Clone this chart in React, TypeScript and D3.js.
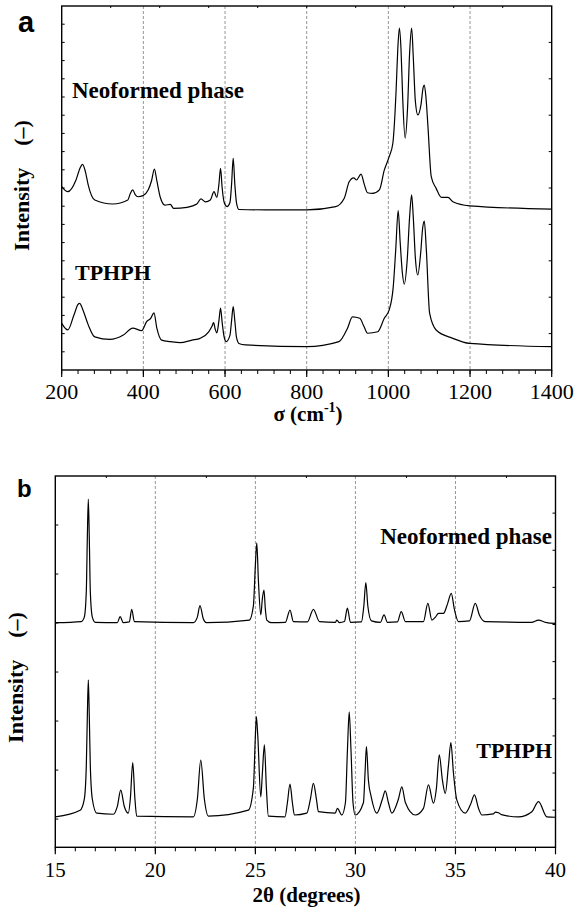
import React from "react";
import * as d3 from "d3";

const W = 575;
const H = 913;

// panel a: Raman spectra, wavenumber (cm-1) vs intensity (a.u.)
const ramanNeo: [number, number][] = [
  [200, 5.04], [215, 4.9], [235, 5.22], [245, 5.55], [251, 5.65], [258, 5.45], [265, 5.08], [281, 4.67],
  [325, 4.56], [362, 4.67], [368, 4.85], [374, 4.95], [380, 4.82], [387, 4.76], [399, 4.79], [412, 4.95],
  [420, 5.2], [427, 5.52], [433, 5.2], [441, 4.76], [453, 4.53], [466, 4.55], [474, 4.44], [507, 4.47],
  [531, 4.56], [541, 4.7], [552, 4.62], [564, 4.67], [573, 4.9], [580, 4.74], [585, 5.1], [589, 5.54],
  [593, 5.0], [598, 4.6], [605, 4.49], [612, 4.6], [616, 5.1], [620, 5.82], [624, 5.1], [628, 4.6],
  [634, 4.41], [700, 4.4], [800, 4.4], [871, 4.49], [892, 4.72], [904, 5.17], [915, 5.28], [922, 5.22],
  [933, 5.38], [941, 5.1], [949, 4.87], [961, 4.85], [978, 4.95], [990, 5.49], [1002, 5.86], [1011, 6.23],
  [1019, 7.69], [1023, 8.8], [1027, 9.39], [1031, 8.8], [1035, 7.5], [1041, 6.37], [1047, 7.2],
  [1052, 8.7], [1057, 9.39], [1061, 8.6], [1066, 7.4], [1072, 7.01], [1080, 7.3], [1085, 7.75],
  [1088, 7.83], [1092, 7.5], [1097, 6.68], [1105, 5.31], [1117, 4.99], [1130, 4.74], [1146, 4.74],
  [1158, 4.62], [1199, 4.51], [1400, 4.42],
];
const ramanTphph: [number, number][] = [
  [200, 1.28], [215, 1.1], [230, 1.51], [240, 1.8], [244, 1.83], [252, 1.65], [265, 1.24], [281, 0.91],
  [318, 0.84], [351, 0.96], [374, 1.15], [396, 1.08], [408, 1.33], [418, 1.42], [426, 1.57], [433, 1.15],
  [445, 0.82], [466, 0.78], [490, 0.75], [519, 0.82], [539, 0.87], [560, 1.05], [568, 1.2], [572, 1.3],
  [576, 1.12], [580, 1.02], [585, 1.35], [589, 1.7], [593, 1.3], [598, 0.9], [603, 0.78], [612, 0.95],
  [616, 1.35], [620, 1.74], [624, 1.35], [628, 0.9], [634, 0.73], [650, 0.69], [800, 0.64], [879, 0.78],
  [900, 1.15], [912, 1.46], [930, 1.42], [940, 1.2], [949, 1.01], [974, 1.05], [990, 1.42], [1002, 1.65],
  [1012, 2.29], [1018, 3.3], [1024, 4.38], [1029, 3.5], [1034, 2.7], [1039, 2.36], [1046, 3.0],
  [1052, 4.2], [1057, 4.81], [1061, 4.2], [1066, 3.1], [1072, 2.61], [1079, 3.2], [1084, 3.9],
  [1088, 4.09], [1093, 3.3], [1101, 1.56], [1117, 1.1], [1158, 0.87], [1199, 0.73], [1400, 0.64],
];

// panel b: XRD patterns, 2theta (degrees) vs intensity (a.u.)
const xrdNeo: [number, number][] = [
  [15, 6.05], [16.3, 6.08], [16.45, 6.2], [16.55, 6.9], [16.6, 8.3], [16.65, 9.38], [16.7, 8.3],
  [16.75, 6.9], [16.85, 6.2], [17.0, 6.06], [18.1, 6.05], [18.24, 6.21], [18.4, 6.05], [18.7, 6.07],
  [18.82, 6.41], [18.95, 6.08], [21.9, 6.05], [22.1, 6.2], [22.23, 6.51], [22.4, 6.15], [22.55, 6.05],
  [24.7, 6.12], [24.9, 6.5], [25.0, 7.6], [25.07, 8.2], [25.15, 7.2], [25.27, 6.26], [25.35, 6.7],
  [25.43, 6.93], [25.5, 6.4], [25.57, 6.12], [25.8, 6.05], [26.5, 6.06], [26.73, 6.39], [26.9, 6.08],
  [27.6, 6.07], [27.9, 6.41], [28.2, 6.08], [29.0, 6.06], [29.07, 6.12], [29.2, 6.05], [29.45, 6.08],
  [29.6, 6.44], [29.75, 6.06], [30.3, 6.07], [30.42, 6.5], [30.52, 7.13], [30.62, 6.5], [30.8, 6.1],
  [31.25, 6.06], [31.43, 6.26], [31.6, 6.06], [32.1, 6.07], [32.29, 6.35], [32.5, 6.08], [33.4, 6.08],
  [33.62, 6.57], [33.82, 6.12], [34.0, 6.2], [34.15, 6.3], [34.4, 6.3], [34.6, 6.55], [34.79, 6.84],
  [34.95, 6.4], [35.15, 6.08], [35.7, 6.1], [35.99, 6.57], [36.2, 6.25], [36.48, 6.08], [38.8, 6.06],
  [39.15, 6.12], [39.5, 6.06], [40, 6.03],
];
const xrdTphph: [number, number][] = [
  [15, 0.82], [16.24, 1.0], [16.45, 1.3], [16.55, 2.2], [16.6, 3.5], [16.65, 4.51], [16.7, 3.5],
  [16.75, 2.2], [16.85, 1.3], [17.07, 0.92], [17.9, 0.89], [18.1, 1.1], [18.27, 1.54], [18.45, 1.1],
  [18.65, 0.92], [18.75, 1.3], [18.87, 2.28], [18.98, 1.3], [19.07, 0.84], [21.9, 0.82], [22.1, 1.3],
  [22.27, 2.35], [22.45, 1.3], [22.65, 0.84], [24.65, 1.0], [24.9, 1.6], [25.0, 3.0], [25.05, 3.52],
  [25.12, 3.0], [25.27, 1.36], [25.35, 2.0], [25.45, 2.76], [25.55, 1.6], [25.65, 0.84], [26.48, 0.82],
  [26.6, 1.2], [26.73, 1.7], [26.85, 1.2], [26.95, 0.87], [27.57, 0.92], [27.75, 1.3], [27.9, 1.72],
  [28.05, 1.3], [28.15, 0.96], [28.99, 0.92], [29.1, 1.05], [29.32, 0.87], [29.5, 1.2], [29.6, 2.6],
  [29.69, 3.65], [29.78, 2.6], [29.88, 1.2], [29.99, 0.87], [30.4, 1.2], [30.48, 2.0], [30.55, 2.71],
  [30.65, 1.8], [30.79, 1.36], [31.07, 0.92], [31.35, 1.3], [31.49, 1.52], [31.65, 1.2], [31.82, 0.92],
  [32.15, 1.3], [32.32, 1.63], [32.5, 1.2], [32.99, 0.87], [33.4, 1.05], [33.65, 1.68], [33.9, 1.19],
  [34.05, 1.6], [34.19, 2.49], [34.35, 1.8], [34.49, 1.45], [34.65, 2.2], [34.77, 2.82], [34.9, 2.0],
  [35.07, 1.27], [35.49, 0.92], [35.75, 1.15], [35.95, 1.41], [36.15, 1.05], [36.32, 0.87], [36.9, 0.9],
  [37.0, 0.95], [37.15, 0.93], [37.3, 0.88], [38.15, 0.82], [38.82, 0.96], [39.15, 1.23], [39.57, 0.82],
  [40, 0.81],
];

const ramanGrid = [400, 600, 800, 1000, 1200];
const xrdGrid = [20, 25, 30, 35];
const xrdLeftTicks = [8.68, 7.36, 6.04, 4.72, 3.4, 2.08, 0.76];

const serif = "Liberation Serif, Times New Roman, DejaVu Serif, serif";
const sans = "Liberation Sans, Arial, DejaVu Sans, sans-serif";

type PanelProps = {
  left: number; right: number; top: number; bottom: number;
  xDomain: [number, number];
  major: number[]; minor: number[]; topTicks: number[];
  grid: number[];
  leftTicks: number[]; rightTicks: number[];
  series: [number, number][][];
  tickFont: number; labelY: number;
};

function Panel(p: PanelProps) {
  const x = d3.scaleLinear().domain(p.xDomain).range([p.left, p.right]);
  const y = d3.scaleLinear().domain([0, 10]).range([p.bottom, p.top]);
  const line = d3
    .line<[number, number]>()
    .x((d) => x(d[0]))
    .y((d) => y(d[1]))
    .curve(d3.curveMonotoneX);

  return (
    <g>
      {p.grid.map((g) => (
        <line key={"g" + g} x1={x(g)} x2={x(g)} y1={p.top} y2={p.bottom}
          stroke="#8a8a8a" strokeWidth={0.9} strokeDasharray="3,2" />
      ))}
      {p.series.map((s, i) => (
        <path key={i} d={line(s) || ""} fill="none" stroke="#000" strokeWidth={1.2} strokeLinejoin="round" />
      ))}
      {p.minor.map((t) => (
        <line key={"mi" + t} x1={x(t)} x2={x(t)} y1={p.bottom} y2={p.bottom + 4} stroke="#000" strokeWidth={1} />
      ))}
      {p.major.map((t) => (
        <line key={"ma" + t} x1={x(t)} x2={x(t)} y1={p.bottom} y2={p.bottom + 7} stroke="#000" strokeWidth={1.2} />
      ))}
      {p.topTicks.map((t) => (
        <line key={"tt" + t} x1={x(t)} x2={x(t)} y1={p.top} y2={p.top + 2} stroke="#000" strokeWidth={1} />
      ))}
      {p.leftTicks.map((t) => (
        <line key={"lt" + t} x1={p.left} x2={p.left + 3} y1={y(t)} y2={y(t)} stroke="#000" strokeWidth={1} />
      ))}
      {p.rightTicks.map((t) => (
        <line key={"rt" + t} x1={p.right} x2={p.right - 3} y1={y(t)} y2={y(t)} stroke="#000" strokeWidth={1} />
      ))}
      <rect x={p.left} y={p.top} width={p.right - p.left} height={p.bottom - p.top}
        fill="none" stroke="#000" strokeWidth={1.4} />
      {p.major.map((t) => (
        <text key={"lb" + t} x={x(t)} y={p.labelY} textAnchor="middle"
          style={{ fontFamily: serif }} fontSize={p.tickFont}>{t}</text>
      ))}
    </g>
  );
}

export default function App() {
  return (
    <svg width={W} height={H} style={{ position: "absolute", left: 0, top: 0, background: "#fff" }}>
      <Panel left={61.7} right={551.7} top={6} bottom={370}
        xDomain={[200, 1400]}
        major={d3.range(200, 1401, 200)}
        minor={d3.range(200, 1401, 40)}
        topTicks={d3.range(320, 1300, 120)}
        grid={ramanGrid}
        leftTicks={d3.range(0.5, 10, 0.5)}
        rightTicks={d3.range(1, 10, 1)}
        series={[ramanNeo, ramanTphph]}
        tickFont={22} labelY={399} />
      <Panel left={55.3} right={555.5} top={476} bottom={847.3}
        xDomain={[15, 40]}
        major={d3.range(15, 41, 5)}
        minor={d3.range(15, 41, 1)}
        topTicks={[17.55, 22.55, 27.55, 32.55, 37.55]}
        grid={xrdGrid}
        leftTicks={xrdLeftTicks}
        rightTicks={d3.range(1, 10, 1)}
        series={[xrdNeo, xrdTphph]}
        tickFont={21} labelY={877} />

      <text x={18} y={32} style={{ fontFamily: sans }} fontWeight="bold" fontSize={29}>a</text>
      <text x={17} y={497} style={{ fontFamily: sans }} fontWeight="bold" fontSize={24}>b</text>

      <text x={72} y={98} style={{ fontFamily: serif }} fontWeight="bold" fontSize={23}>Neoformed phase</text>
      <text x={75} y={280} style={{ fontFamily: serif }} fontWeight="bold" fontSize={22}>TPHPH</text>
      <text x={552} y={544} textAnchor="end" style={{ fontFamily: serif }} fontWeight="bold" fontSize={23}>Neoformed phase</text>
      <text x={552} y={758} textAnchor="end" style={{ fontFamily: serif }} fontWeight="bold" fontSize={22}>TPHPH</text>

      <text transform="translate(29,185.5) rotate(-90)" textAnchor="middle"
        style={{ fontFamily: serif }} fontWeight="bold" fontSize={22}>
        Intensity<tspan dx={22}>(–)</tspan>
      </text>
      <text transform="translate(23,677.5) rotate(-90)" textAnchor="middle"
        style={{ fontFamily: serif }} fontWeight="bold" fontSize={22}>
        Intensity<tspan dx={22}>(–)</tspan>
      </text>

      <text x={308} y={421} textAnchor="middle" style={{ fontFamily: serif }} fontWeight="bold" fontSize={21}>
        σ (cm<tspan fontSize={14} dy={-9}>-1</tspan><tspan dy={9}>)</tspan>
      </text>
      <text x={306.5} y={902} textAnchor="middle" style={{ fontFamily: serif }} fontWeight="bold" fontSize={21}>
        2θ (degrees)
      </text>
    </svg>
  );
}
